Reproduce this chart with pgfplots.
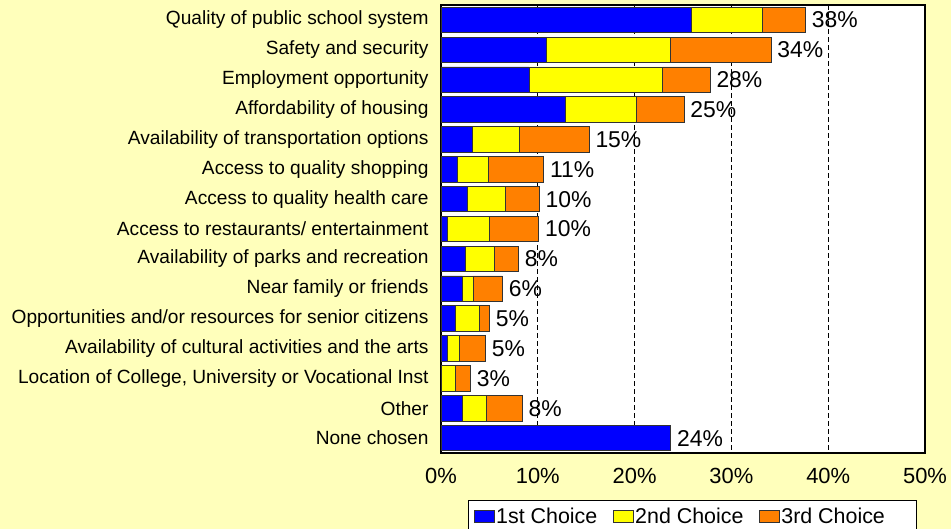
\documentclass[border=0pt]{standalone}
\usepackage{pgfplots}
\pgfplotsset{compat=1.18}
\usepackage{pgfplotstable}
\usepackage{fontspec}
\setmainfont{Liberation Sans}
\definecolor{bg}{HTML}{FFFFBB}
\definecolor{c1}{HTML}{0000FF}
\definecolor{c2}{HTML}{FFFF00}
\definecolor{c3}{HTML}{FF8000}
\definecolor{edge}{HTML}{333333}

\pgfplotstableread{
y  a     b     c     t
0  25.9  7.3   4.45  38
1  10.9  12.8  10.4  34
2  9.1   13.8  4.9   28
3  12.8  7.4   4.9   25
4  3.2   4.9   7.2   15
5  1.7   3.2   5.7   11
6  2.7   4.0   3.45  10
7  0.65  4.3   5.15  10
8  2.5   3.0   2.5   8
9  2.2   1.15  3.0   6
10 1.5   2.5   1.0   5
11 0.65  1.25  2.7   5
12 0     1.5   1.55  3
13 2.2   2.5   3.7   8
14 23.73 0     0.01  24
}\data

\begin{document}
\begin{tikzpicture}
\fill[bg, use as bounding box] (0,0) rectangle (951bp,529bp);
\begin{axis}[
  at={(441bp,76bp)}, anchor=south west,
  scale only axis, width=484bp, height=448bp,
  xbar stacked, bar width=25.5bp,
  xmin=0, xmax=50, ymin=-0.5, ymax=14.5, y dir=reverse,
  xtick={0,10,20,30,40,50},
  xticklabel={\pgfmathprintnumber{\tick}\%},
  /pgf/number format/assume math mode=true,
  ytick={0,...,14},
  yticklabels={Quality of public school system, Safety and security, Employment opportunity, Affordability of housing, Availability of transportation options, Access to quality shopping, Access to quality health care, Access to restaurants/ entertainment, Availability of parks and recreation, Near family or friends, Opportunities and/or resources for senior citizens, Availability of cultural activities and the arts, {Location of College, University or Vocational Inst}, Other, None chosen},
  major tick length=0pt,
  axis background/.style={fill=white},
  axis line style={line width=1.5bp, black},
  xmajorgrids,
  grid style={black, dash pattern=on 5bp off 3bp, line width=0.7bp},
  xticklabel style={font=\fontsize{22}{24}\selectfont, yshift=-12bp},
  yticklabel style={font=\fontsize{19.2}{21}\selectfont, xshift=-9bp},
  every axis plot/.append style={draw=edge, line width=0.8bp},
  legend style={at={(0.0568,-0.1058)}, anchor=north west, legend columns=3,
    draw=black, line width=0.8bp, fill=white,
    font=\fontsize{21.5}{23}\selectfont,
    inner xsep=5bp, inner ysep=3bp,
    nodes={inner xsep=1.5bp, inner ysep=4bp},
    /tikz/every even column/.append style={column sep=14bp}},
  legend image code/.code={\draw[#1, draw=edge, line width=0.8bp] (0bp,-6bp) rectangle (20bp,6bp);},
]
\addplot[fill=c1] table[x=a, y=y] {\data};
\addlegendentry{1st Choice}
\addplot[fill=c2] table[x=b, y=y] {\data};
\addlegendentry{2nd Choice}
\addplot[fill=c3,
  point meta=explicit,
  visualization depends on={\thisrow{c} \as \cval},
  nodes near coords={\pgfmathprintnumber[fixed,precision=0]{\pgfplotspointmeta}\%},
  nodes near coords align={horizontal},
  every node near coord/.append style={anchor=west, xshift={\cval*4.84bp}, font=\fontsize{23}{25}\selectfont, text=black, inner xsep=6bp, /pgf/number format/assume math mode=true}
  ] table[x=c, y=y, meta=t] {\data};
\addlegendentry{3rd Choice\kern25bp}
\end{axis}
\end{tikzpicture}
\end{document}
